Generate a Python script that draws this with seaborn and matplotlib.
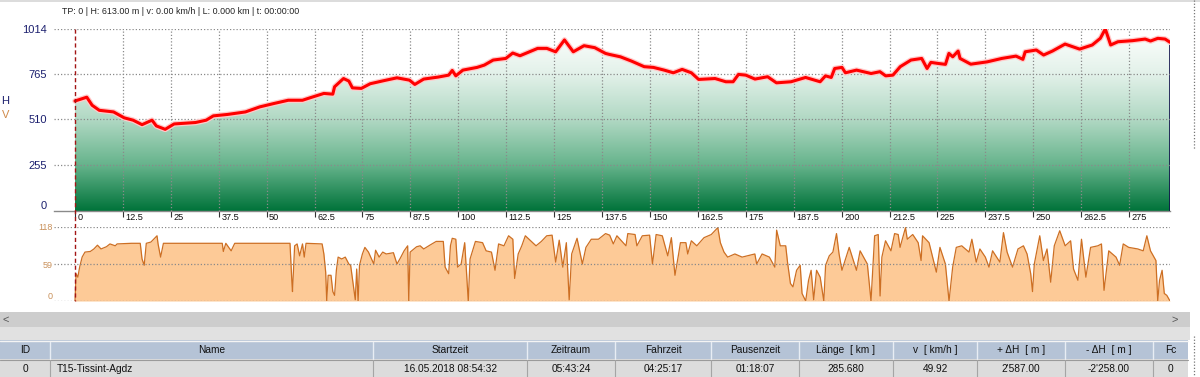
import numpy as np
import pandas as pd
import matplotlib
matplotlib.use("Agg")
import matplotlib.pyplot as plt
import matplotlib.transforms as mtransforms
from matplotlib.colors import LinearSegmentedColormap
from matplotlib.patches import Rectangle
from matplotlib.lines import Line2D
import seaborn as sns

# height profile: distance [km] / height [m]
elev_km = [0.0, 3.07, 4.47, 6.33, 10.05, 12.84, 15.16, 17.49, 20.09, 21.21, 23.53, 25.86,
           31.44, 34.23, 36.09, 39.81, 44.47, 48.19, 51.91, 55.63, 59.35, 61.21, 64.93,
           67.26, 67.72, 70.05, 71.44, 72.37, 74.70, 77.02, 80.74, 84.0, 87.26, 88.65,
           90.98, 94.70, 97.49, 98.42, 99.35, 101.2, 104.9, 106.8, 109.1, 112.4, 114.2,
           116.1, 120.7, 123.1, 125.4, 127.7, 130.0, 132.8, 135.6, 138.4,
           139.5, 142.3, 145.2, 148.5, 150.9, 153.7, 156.1, 158.4, 160.8, 162.7, 167.0,
           169.8, 171.7, 173.1, 175.0, 177.4, 180.7, 183.0, 186.8, 190.6, 194.4, 195.8,
           197.3, 198.2, 200.1, 201.0, 203.9, 207.7, 210.0, 211.5, 213.4, 215.3, 218.1,
           220.9, 222.3, 223.3, 225.2, 227.1, 228.0, 229.0, 230.4, 230.9, 233.7, 238.0,
           241.8, 245.5, 247.3, 247.9, 250.8, 252.7, 255.0, 258.3, 262.1, 265.4, 267.5,
           268.8, 270.2, 272.1, 275.9, 279.2, 280.6, 282.5, 284.4, 285.68]
elev_m = [613, 634, 589, 561, 552, 519, 506, 481, 506, 474, 455, 485,
          493, 506, 530, 538, 552, 580, 599, 617, 617, 630, 655,
          651, 692, 738, 724, 686, 683, 709, 727, 742, 729, 705,
          735, 746, 757, 783, 753, 785, 800, 813, 841, 850, 880,
          865, 906, 906, 887, 953, 887, 921, 910, 878,
          872, 859, 835, 804, 800, 785, 770, 789, 770, 733, 738,
          720, 720, 761, 757, 735, 748, 714, 720, 744, 720, 753,
          744, 794, 800, 770, 785, 766, 776, 753, 757, 804, 841,
          850, 794, 828, 822, 817, 878, 859, 891, 850, 818, 831,
          850, 863, 845, 887, 897, 869, 891, 930, 902, 925, 962,
          1014, 925, 943, 949, 958, 947, 962, 958, 940]

# speed profile: distance [km] / speed [km/h]
speed_km = [0.0, 0.28, 0.74, 1.21, 1.86, 2.60, 4.00, 4.93, 5.86, 6.79, 8.19, 9.12, 10.51,
            10.98, 14.70, 17.02, 17.49, 18.05, 18.60, 19.81, 21.40, 21.67, 22.33, 23.07,
            33.30, 38.42, 38.70, 39.35, 40.74, 41.67, 56.09, 56.56, 56.74, 57.30, 57.95,
            58.60, 59.35, 59.81, 60.28, 64.47, 64.93, 65.40, 65.67, 66.05, 66.79, 67.26,
            67.72, 68.19, 68.65, 69.58, 70.51, 71.44, 71.91, 72.37, 73.12, 73.49, 73.86,
            74.23, 74.98, 75.63, 76.56, 77.95, 78.42, 79.35, 80.28, 81.21, 83.07, 84.0,
            84.93, 85.86, 86.79, 87.07, 87.44, 89.12, 90.05, 90.98, 92.84, 94.23, 96.09,
            96.56, 97.49, 97.95, 98.42, 99.35, 99.81, 100.74, 101.67, 102.60, 103.07,
            104.47, 106.33, 107.26, 108.65, 109.58, 110.51, 111.91, 113.12, 114.23, 114.70,
            115.63, 116.56, 117.49, 118.88, 120.28, 121.67, 123.07, 124.47, 125.40, 126.33,
            127.26, 128.19, 128.93, 129.58, 130.98, 132.37, 133.30, 134.70, 136.56, 138.42,
            139.49, 140.44, 141.38, 143.75, 144.22, 146.12, 146.59, 148.01, 149.91, 150.66,
            151.61, 153.22, 154.64, 155.59, 156.53, 157.48, 157.95, 159.38, 159.85, 160.80,
            162.22, 164.11, 166.00, 167.71, 168.37, 169.32, 170.27, 172.16, 174.05, 177.37,
            177.84, 179.26, 181.16, 182.58, 183.05, 184.00, 185.42, 185.89, 186.65, 187.31,
            188.26, 189.20, 189.68, 190.63, 191.38, 192.05, 192.71, 193.47, 194.41, 195.36,
            195.83, 196.78, 197.73, 198.67, 199.34, 200.09, 201.04, 201.99, 203.88, 204.83,
            206.72, 207.67, 208.62, 209.56, 210.04, 210.51, 211.46, 212.88, 213.83, 214.77,
            215.25, 216.67, 217.14, 218.56, 219.98, 220.74, 221.12, 222.82, 224.72, 225.66,
            227.08, 228.03, 228.98, 229.92, 231.34, 233.24, 233.99, 235.13, 236.08, 237.50,
            238.45, 239.39, 241.29, 242.23, 243.18, 244.60, 246.02, 247.44, 248.39, 249.34,
            249.81, 250.28, 251.70, 252.65, 253.60, 254.55, 255.49, 256.91, 258.33, 259.75,
            260.51, 261.65, 262.59, 263.73, 264.96, 266.86, 267.80, 268.47, 269.70, 271.59,
            272.54, 273.48, 274.91, 277.27, 278.69, 279.64, 280.59, 282.01, 282.48, 282.95,
            283.62, 284.19, 284.85, 285.68]
speed_kmh = [0, 43.5, 38, 54, 70, 78, 79, 83, 89, 83, 86.5, 91, 88,
             91, 92, 92, 67, 57, 92, 94, 104, 91, 70, 92,
             92, 92, 79, 92, 80, 92, 92, 33, 15, 88, 91,
             72, 91, 70, 92, 91, 75, 46, 0, 41, 41, 15,
             9, 49, 70, 67, 70, 59, 57, 36, 2, 51, 0,
             57, 75, 85.5, 78, 59, 81, 70, 78, 75, 77, 59,
             69, 80, 88, 0, 78, 86.5, 88, 83, 90, 95, 95,
             54, 43.5, 88, 100, 98.5, 54, 59, 93, 0, 67,
             95, 93, 80, 78, 49, 91, 88, 104, 98.5, 36,
             75, 88, 104, 96, 88, 95, 104, 105, 62, 97,
             54, 93, 2, 75, 100, 59, 85.5, 98.5, 98.5, 107.5,
             105, 91, 104, 88, 107.5, 106, 88, 104, 105, 59,
             106, 104, 72, 101, 41, 75, 93, 93, 75, 96,
             88, 101, 106, 117, 93, 78, 70, 75, 70, 75,
             59, 75, 70, 54, 113, 88, 88, 62, 28, 22.5,
             49, 57, 12, 0, 33, 49, 2, 49, 38, 0,
             57, 72, 78, 107.5, 75, 49, 67, 85.5, 49, 80,
             59, 0, 104, 106, 8, 70, 96, 80, 107.5, 106,
             85.5, 117, 98.5, 106, 93, 64.5, 104, 93, 46, 85.5,
             59, 0, 54, 85.5, 88, 78, 98.5, 62, 83, 70,
             54, 80, 62, 109, 78, 54, 83, 88, 75, 43.5,
             15, 59, 104, 64.5, 83, 30, 88, 112, 88, 96,
             51, 33, 98.5, 38, 85.5, 88, 91, 17, 80, 70,
             57, 91, 85.5, 83, 80, 104, 80, 64.5, 0, 33,
             49, 12, 9, 0]

x_ticks = [0, 12.5, 25, 37.5, 50, 62.5, 75, 87.5, 100, 112.5, 125, 137.5, 150, 162.5,
           175, 187.5, 200, 212.5, 225, 237.5, 250, 262.5, 275]
h_ticks = [0, 255, 510, 765, 1014]
v_ticks = [0, 59, 118]

header_text = "TP: 0 | H: 613.00 m | v: 0.00 km/h | L: 0.000 km | t: 00:00:00"
col_names = ["ID", "Name", "Startzeit", "Zeitraum", "Fahrzeit", "Pausenzeit",
             "Länge  [ km ]", "v  [ km/h ]", "+ ΔH  [ m ]", "- ΔH  [ m ]", "Fc"]
row_values = ["0", "T15-Tissint-Agdz", "16.05.2018 08:54:32", "05:43:24", "04:25:17",
              "01:18:07", "285.680", "49.92", "2'587.00", "-2'258.00", "0"]

df_h = pd.DataFrame({"km": elev_km, "h": elev_m})
df_v = pd.DataFrame({"km": speed_km, "v": speed_kmh})

sns.set_style("white")
plt.rcParams["font.family"] = ["Liberation Sans", "DejaVu Sans"]

W, H = 1200, 377
fig = plt.figure(figsize=(12, 3.77), dpi=100)


def box(l, t, r, b):
    return [l / W, 1 - b / H, (r - l) / W, (b - t) / H]


def fx(px):
    return px / W


def fy(py):
    return 1 - py / H


xlim = (-5.48, 285.68)
grid_kw = dict(color="#8a8a8a", lw=0.9, ls=(0, (1, 1.6)), zorder=5)
navy = "#1b1f6e"
tan = "#c9915b"

# ---------- height chart
ax_h = fig.add_axes(box(54, 29, 1170, 211))
poly = ax_h.fill_between(df_h.km, df_h.h, 0, color="none", lw=0)
cmap = LinearSegmentedColormap.from_list(
    "hgrad", [(0, "#00733a"), (0.25, "#65b38b"), (0.5, "#b0d8c3"),
              (0.75, "#e2f1e9"), (1.0, "#ffffff")])
grad = np.linspace(0, 1, 256).reshape(-1, 1)
im = ax_h.imshow(grad, aspect="auto", cmap=cmap, origin="lower",
                 extent=[df_h.km.min(), df_h.km.max(), 0, max(h_ticks)], zorder=1)
im.set_clip_path(poly.get_paths()[0], transform=ax_h.transData)
ax_h.vlines(df_h.km.iloc[-1], 0, df_h.h.iloc[-1], color="#10104a", lw=1.2, zorder=3)

for t in x_ticks[1:]:
    ax_h.axvline(t, **grid_kw)
for t in h_ticks[1:]:
    ax_h.axhline(t, **grid_kw)

ax_h.plot(df_h.km, df_h.h, color="#ffcaca", lw=4.0, zorder=6, solid_joinstyle="round")
sns.lineplot(data=df_h, x="km", y="h", ax=ax_h, color="#ff0000", lw=2.2,
             estimator=None, sort=False, zorder=7)

ax_h.set_xlim(*xlim)
ax_h.set_ylim(0, max(h_ticks))
ax_h.set_xlabel("")
ax_h.set_ylabel("")
for s in ["top", "left", "right"]:
    ax_h.spines[s].set_visible(False)
ax_h.spines["bottom"].set_color("#8a8a8a")
ax_h.spines["bottom"].set_linewidth(1)

ax_h.set_yticks(h_ticks)
ax_h.set_yticklabels([str(t) for t in h_ticks])
ax_h.tick_params(axis="y", length=0, pad=5, labelsize=8, labelcolor=navy)
ax_h.get_yticklabels()[0].set_va("bottom")

ax_h.set_xticks(x_ticks)
ax_h.set_xticklabels([f"{t:g}" for t in x_ticks])
ax_h.tick_params(axis="x", bottom=True, direction="out", length=4.5, width=0.8,
                 color="#333333", pad=-3.4, labelsize=6.6, labelcolor="#111111")
offset = mtransforms.ScaledTranslation(2.5 / 100, 0, fig.dpi_scale_trans)
for lab in ax_h.get_xticklabels():
    lab.set_ha("left")
    lab.set_transform(lab.get_transform() + offset)

# ---------- speed chart
ax_v = fig.add_axes(box(54, 227, 1170, 301))
ax_v.fill_between(df_v.km, df_v.v, 0, color="#fdca97", lw=0, zorder=1)
sns.lineplot(data=df_v, x="km", y="v", ax=ax_v, color="#cd6f23", lw=0.9,
             estimator=None, sort=False, zorder=3)
for t in v_ticks:
    ax_v.axhline(t, **grid_kw)
ax_v.set_xlim(*xlim)
ax_v.set_ylim(0, max(v_ticks))
ax_v.set_xlabel("")
ax_v.set_ylabel("")
for s in ax_v.spines.values():
    s.set_visible(False)
ax_v.set_xticks([])
ax_v.set_yticks(v_ticks)
ax_v.set_yticklabels([str(t) for t in v_ticks])
ax_v.tick_params(axis="y", length=0, pad=1, labelsize=6.5, labelcolor=tan)
ax_v.get_yticklabels()[0].set_va("bottom")

# cursor at track point 0, spanning both charts
blend = mtransforms.blended_transform_factory(ax_h.transData, fig.transFigure)
fig.add_artist(Line2D([elev_km[0], elev_km[0]], [fy(29), fy(301)], transform=blend,
                      color="#a31515", lw=1, ls=(0, (3, 2)), zorder=10))

# ---------- texts around the charts
fig.text(fx(62), fy(12), header_text, fontsize=6.4, color="#222222", va="center")
fig.text(fx(5.5), fy(101), "H", fontsize=8, color=navy, ha="center", va="center")
fig.text(fx(5.5), fy(115), "V", fontsize=8, color="#d08a4a", ha="center", va="center")

# window frame bits
fig.add_artist(Rectangle((0, fy(2)), 1, 2 / H, transform=fig.transFigure,
                         color="#dcdcdc", lw=0))
fig.add_artist(Line2D([fx(1194), fx(1194)], [fy(0), fy(150)], transform=fig.transFigure,
                      color="#777777", lw=0.9, ls=(0, (1, 1.5))))
fig.add_artist(Line2D([fx(1194), fx(1194)], [fy(336), fy(377)], transform=fig.transFigure,
                      color="#777777", lw=0.9, ls=(0, (1, 1.5))))

# scrollbar
fig.add_artist(Rectangle((0, fy(327)), fx(1190), 15 / H, transform=fig.transFigure,
                         color="#cdcdcd", lw=0))
fig.text(fx(6), fy(319.5), "<", fontsize=8, color="#555555", ha="center", va="center")
fig.text(fx(1175), fy(319.5), ">", fontsize=8, color="#555555", ha="center", va="center")
fig.add_artist(Rectangle((0, fy(340)), fx(1190), 13 / H, transform=fig.transFigure,
                         color="#e1e1e1", lw=0))

# table
col_edges = [0, 50, 373, 527, 615, 711, 799, 893, 977, 1065, 1153, 1188]
fig.add_artist(Rectangle((0, fy(359)), fx(col_edges[-1]), 19 / H, transform=fig.transFigure,
                         color="#b5c3d6", lw=0))
fig.add_artist(Rectangle((0, fy(377)), fx(col_edges[-1]), 18 / H, transform=fig.transFigure,
                         color="#dcdcdc", lw=0))
fig.add_artist(Line2D([0, fx(col_edges[-1])], [fy(340.5), fy(340.5)],
                      transform=fig.transFigure, color="#f4f4f4", lw=1))
fig.add_artist(Line2D([0, fx(col_edges[-1])], [fy(359.5), fy(359.5)],
                      transform=fig.transFigure, color="#9a9a9a", lw=0.8))
for e in col_edges[1:-1]:
    fig.add_artist(Line2D([fx(e), fx(e)], [fy(342), fy(359)], transform=fig.transFigure,
                          color="#e8edf4", lw=1))
    fig.add_artist(Line2D([fx(e), fx(e)], [fy(360), fy(377)], transform=fig.transFigure,
                          color="#a5a5a5", lw=0.8))
for i, (name, val) in enumerate(zip(col_names, row_values)):
    l, r = col_edges[i], col_edges[i + 1]
    fig.text(fx((l + r) / 2), fy(350), name, fontsize=7.3, color="#111111",
             ha="center", va="center")
    if name == "Name":
        fig.text(fx(l + 7), fy(368.5), val, fontsize=7.3, color="#111111",
                 ha="left", va="center")
    else:
        fig.text(fx((l + r) / 2), fy(368.5), val, fontsize=7.3, color="#111111",
                 ha="center", va="center")

fig.savefig("out.png", dpi=100)
